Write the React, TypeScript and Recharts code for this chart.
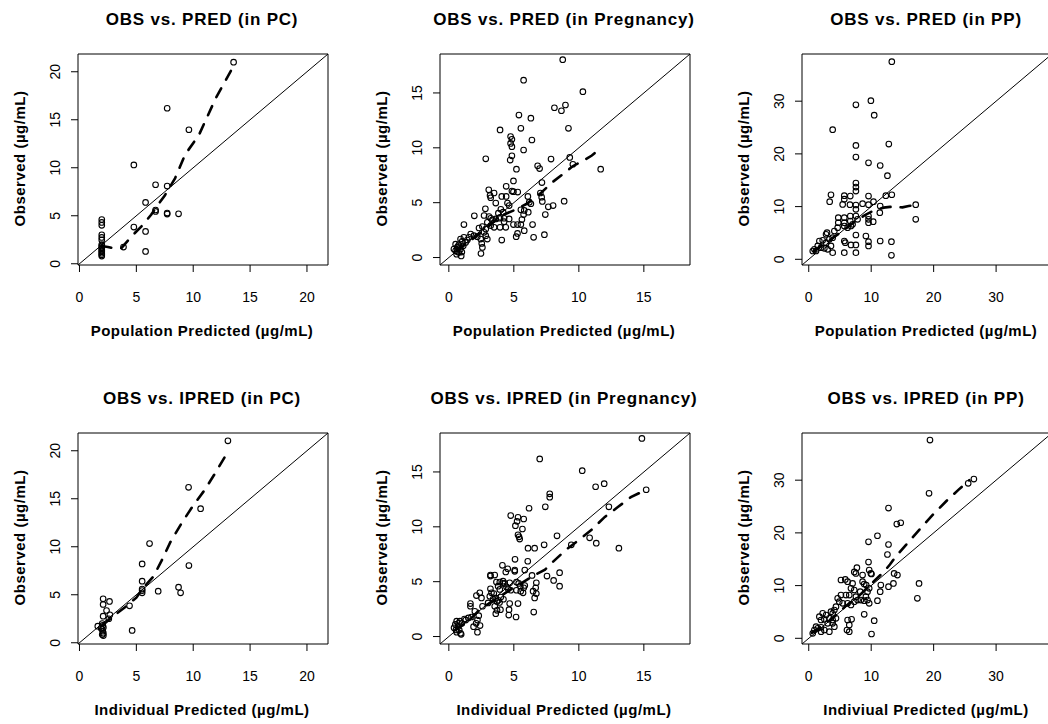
import React from "react";
import {
  ComposedChart,
  Scatter,
  Line,
  XAxis,
  YAxis,
  ReferenceArea,
  ReferenceLine,
} from "recharts";

type Pt = [number, number];

const pcPred: Pt[] = [
  [13.55, 21.0], [7.71, 16.2], [9.62, 13.96], [4.78, 10.3], [6.69, 8.23], [7.71, 8.09],
  [5.81, 6.39], [6.69, 5.6], [6.69, 5.45], [7.71, 5.28], [7.71, 5.17], [8.71, 5.2],
  [4.78, 3.82], [5.81, 3.37], [3.87, 1.74], [5.81, 1.28], [1.96, 4.6], [1.96, 4.3],
  [1.96, 4.0], [1.96, 3.02], [1.96, 2.74], [1.96, 2.48], [1.96, 2.0], [1.96, 1.85],
  [1.96, 1.7], [1.96, 1.55], [1.96, 1.4], [1.96, 1.25], [1.96, 1.1], [1.96, 0.95], [1.96, 0.8],
];
const pcPredFit: Pt[] = [
  [1.93, 1.85], [2.5, 1.75], [3.0, 1.6], [3.7, 1.65], [4.7, 3.0], [5.45, 3.9], [6.3, 5.1],
  [7.0, 6.3], [7.5, 7.1], [8.4, 8.9], [9.3, 11.4], [10.5, 13.4], [12.0, 17.3], [13.5, 20.5],
];

const pregPred: Pt[] = [
  [8.76, 18.03], [5.75, 16.16], [10.31, 15.12], [8.12, 13.65], [8.97, 13.9], [8.66, 13.38],
  [5.39, 12.98], [6.31, 12.7], [3.94, 11.63], [5.54, 11.78], [9.2, 11.78], [4.75, 11.02],
  [4.85, 10.77], [4.75, 10.4], [4.85, 10.1], [6.39, 10.71], [5.75, 9.8], [4.85, 9.27],
  [4.72, 8.88], [2.84, 9.0], [7.86, 8.97], [9.3, 9.12], [5.2, 8.05], [6.83, 8.36],
  [6.98, 8.11], [11.68, 8.05], [9.54, 8.5], [4.97, 6.98], [7.16, 6.83], [4.41, 6.49],
  [3.07, 6.18], [4.85, 6.06], [4.97, 6.0], [5.3, 5.97], [3.48, 5.88], [3.17, 5.66],
  [3.22, 5.45], [4.07, 5.57], [4.41, 5.57], [6.08, 5.57], [7.04, 5.88], [7.14, 5.5],
  [7.19, 5.11], [8.87, 5.14], [8.02, 4.74], [7.65, 4.62], [6.19, 5.05], [6.31, 4.9],
  [4.51, 4.96], [4.64, 4.74], [3.61, 4.96], [2.81, 4.44], [4.0, 4.4], [4.18, 4.13],
  [5.54, 4.35], [6.11, 4.13], [5.8, 4.29], [5.75, 3.92], [7.42, 3.92], [1.96, 3.8],
  [3.81, 4.04], [3.94, 3.67], [2.71, 3.83], [3.09, 3.73], [3.22, 3.58], [3.35, 3.43],
  [3.61, 3.52], [3.87, 3.58], [4.25, 3.58], [4.64, 3.52], [5.62, 3.46], [2.96, 3.21],
  [3.22, 2.91], [3.48, 2.75], [1.16, 3.0], [4.97, 3.0], [5.28, 3.0], [5.54, 3.0],
  [6.44, 3.0], [3.94, 2.75], [4.38, 2.75], [4.25, 3.27], [5.8, 2.45], [5.28, 2.2],
  [5.18, 1.9], [6.52, 1.84], [7.35, 2.08], [4.07, 1.59], [2.58, 2.82], [2.32, 2.69],
  [2.84, 2.6], [2.71, 2.3], [1.68, 2.14], [1.93, 1.99], [2.19, 1.9], [1.55, 1.84],
  [2.45, 1.68], [2.84, 1.99], [2.96, 1.68], [2.53, 1.29], [2.58, 0.92], [2.47, 0.37],
  [0.9, 1.68], [1.03, 1.47], [0.77, 1.16], [0.52, 1.22], [0.64, 0.92], [0.9, 0.77],
  [0.52, 0.61], [0.77, 0.46], [0.95, 0.15], [1.29, 1.38], [1.11, 1.07], [0.39, 0.77],
  [0.64, 0.55], [1.16, 1.84], [1.42, 1.59], [0.6, 0.3], [0.7, 1.0], [1.0, 0.5],
];
const pregPredFit: Pt[] = [
  [0.6, 0.6], [1.5, 1.4], [2.5, 2.3], [3.3, 3.1], [4.0, 3.8], [5.0, 4.3], [6.0, 4.9],
  [7.0, 5.8], [8.0, 6.9], [9.0, 7.8], [9.5, 8.3], [10.3, 8.8], [11.0, 9.3], [11.7, 10.0],
];

const ppPred: Pt[] = [
  [13.3, 37.5], [9.95, 30.1], [7.55, 29.3], [10.48, 27.35], [3.83, 24.6], [12.82, 21.86],
  [7.55, 21.6], [7.55, 19.4], [9.57, 18.3], [11.44, 17.8], [12.6, 15.86], [7.55, 14.47],
  [7.55, 13.7], [7.55, 12.95], [3.56, 12.25], [5.69, 12.07], [5.69, 11.4], [6.65, 12.0],
  [9.57, 12.0], [12.34, 12.07], [13.3, 12.25], [3.35, 10.93], [5.43, 10.42], [6.6, 10.36],
  [7.55, 10.3], [8.62, 10.55], [9.57, 10.36], [10.37, 10.93], [11.44, 10.1], [7.55, 9.48],
  [17.13, 10.36], [17.13, 7.58], [4.73, 7.9], [5.69, 7.9], [6.65, 8.2], [7.55, 8.2],
  [7.82, 7.58], [4.73, 6.95], [5.69, 6.95], [6.65, 7.26], [9.57, 6.95], [10.32, 7.14],
  [9.57, 8.2], [9.57, 7.58], [11.38, 8.84], [5.69, 6.32], [6.22, 6.0], [6.76, 6.32],
  [7.02, 6.63], [4.63, 6.0], [4.1, 5.37], [2.93, 5.05], [2.77, 4.74], [3.83, 4.1],
  [3.3, 3.79], [1.7, 3.47], [2.23, 3.6], [2.77, 3.16], [1.44, 2.53], [0.9, 1.9],
  [0.64, 1.58], [1.17, 1.58], [1.97, 2.21], [2.5, 2.08], [3.03, 1.9], [3.56, 2.53],
  [3.83, 1.26], [5.69, 1.26], [7.55, 1.26], [5.69, 3.47], [5.85, 3.16], [7.55, 4.61],
  [7.55, 2.72], [6.76, 2.72], [9.15, 4.42], [9.57, 3.35], [9.57, 2.53], [11.44, 3.47],
  [13.24, 3.35], [13.24, 0.76],
];
const ppPredFit: Pt[] = [
  [0.8, 1.5], [2, 2.6], [3, 3.3], [4, 4.2], [5, 5.0], [6, 5.9], [7, 6.8], [8, 7.6], [9, 8.4],
  [10, 9.0], [11, 9.5], [12, 9.8], [13, 9.95], [14, 9.9], [15, 9.85], [16, 10.1], [17.3, 10.35],
];

const pcIpred: Pt[] = [
  [13.05, 21.04], [9.59, 16.19], [10.65, 13.97], [6.16, 10.33], [5.51, 8.21], [9.62, 8.04],
  [5.51, 6.41], [5.51, 5.6], [5.51, 5.44], [5.51, 5.2], [6.92, 5.37], [8.71, 5.79],
  [8.89, 5.2], [4.4, 3.85], [4.63, 1.28], [1.61, 1.73], [2.08, 4.58], [2.64, 4.3],
  [2.08, 3.99], [2.38, 3.36], [2.67, 2.91], [2.08, 2.77], [2.58, 2.5], [2.0, 2.0],
  [2.05, 1.8], [2.1, 1.6], [2.0, 1.4], [2.05, 1.2], [2.1, 1.0], [2.0, 0.85], [2.1, 0.75], [1.9, 1.5],
];
const pcIpredFit: Pt[] = [
  [2.0, 1.8], [3.0, 2.8], [4.0, 3.7], [5.0, 4.7], [5.6, 5.7], [6.5, 6.9], [7.2, 8.5],
  [8.0, 10.5], [9.0, 12.5], [10.0, 14.3], [11.0, 15.9], [12.0, 17.8], [13.1, 20.0],
];

const pregIpred: Pt[] = [
  [14.85, 18.06], [6.99, 16.19], [10.26, 15.12], [11.29, 13.65], [11.95, 13.93], [15.18, 13.38],
  [7.76, 13.01], [7.76, 12.7], [6.17, 11.69], [7.42, 11.82], [12.31, 11.82], [4.76, 11.02],
  [5.32, 10.87], [5.25, 10.5], [5.12, 10.1], [5.76, 10.71], [5.66, 9.8], [5.32, 9.27],
  [5.45, 8.88], [5.4, 9.09], [8.32, 9.18], [7.33, 8.36], [6.6, 8.05], [6.09, 8.05],
  [10.83, 9.0], [11.34, 8.51], [9.42, 8.36], [13.08, 8.05], [5.09, 7.04], [6.07, 6.86],
  [4.12, 6.49], [4.38, 5.88], [4.53, 6.18], [5.07, 6.06], [5.07, 5.94], [5.84, 6.06],
  [3.2, 5.6], [3.53, 5.6], [3.2, 5.51], [3.92, 4.96], [4.17, 4.84], [3.66, 4.96],
  [6.4, 5.57], [7.55, 5.51], [8.52, 5.82], [8.06, 5.11], [6.73, 4.9], [6.68, 4.44],
  [8.52, 4.59], [6.73, 3.92], [6.6, 3.52], [5.37, 4.84], [5.5, 4.59], [5.2, 4.22],
  [5.76, 4.44], [5.71, 3.98], [4.68, 4.9], [3.2, 4.35], [2.12, 3.73], [2.38, 3.98],
  [2.51, 3.52], [1.66, 3.0], [3.15, 3.67], [3.02, 3.06], [3.6, 3.5], [3.8, 3.3],
  [4.0, 3.6], [4.2, 3.4], [3.7, 3.2], [3.4, 3.4], [3.9, 3.1], [4.68, 3.0], [4.63, 2.45],
  [5.32, 3.0], [3.97, 2.45], [3.61, 2.08], [4.61, 1.96], [5.17, 1.78], [6.53, 2.23],
  [3.53, 2.76], [3.71, 2.39], [2.59, 2.76], [1.66, 2.76], [2.0, 2.3], [1.74, 1.78],
  [2.3, 1.9], [2.2, 1.5], [2.1, 1.2], [2.4, 1.0], [2.2, 0.4], [1.9, 0.9], [1.5, 1.7],
  [1.3, 1.5], [1.2, 1.6], [0.6, 1.4], [0.5, 1.1], [0.4, 0.8], [0.7, 0.9], [0.8, 0.6],
  [0.55, 0.6], [0.9, 0.3], [0.75, 1.2], [1.0, 1.2], [0.85, 1.4], [0.95, 0.2], [0.6, 0.4],
  [5.2, 4.96], [5.53, 4.13], [5.84, 4.65], [4.56, 4.35], [4.76, 4.22], [3.28, 3.98],
  [3.46, 3.92], [4.17, 5.05], [4.3, 4.84], [3.79, 4.59], [3.92, 4.29], [4.43, 4.53],
  [6.48, 4.13],
];
const pregIpredFit: Pt[] = [
  [0.5, 0.6], [1.5, 1.4], [2.5, 2.6], [3.5, 3.3], [4.5, 4.1], [5.5, 4.8], [6.5, 5.55],
  [7.4, 6.1], [8.0, 6.8], [9.0, 7.9], [10.0, 8.8], [11.0, 9.75], [12.0, 10.9], [13.0, 11.8],
  [14.0, 12.7], [15.2, 13.4],
];

const ppIpred: Pt[] = [
  [19.41, 37.6], [26.44, 30.2], [25.53, 29.4], [19.26, 27.5], [12.77, 24.7], [14.1, 21.67],
  [14.73, 21.92], [11.0, 19.46], [9.57, 18.3], [12.77, 17.8], [12.6, 15.9], [9.57, 14.47],
  [7.71, 13.4], [9.68, 12.95], [9.95, 12.3], [7.29, 12.6], [7.55, 12.3], [8.62, 12.0],
  [10.05, 12.2], [13.67, 12.3], [14.2, 12.0], [5.16, 11.06], [5.85, 11.18], [6.22, 10.74],
  [7.02, 10.42], [8.62, 10.74], [8.88, 10.3], [9.2, 10.1], [11.54, 10.1], [13.56, 10.42],
  [17.66, 10.42], [17.39, 7.58], [12.77, 9.8], [11.44, 8.84], [8.24, 8.84], [9.41, 8.84],
  [9.68, 9.48], [6.76, 9.48], [7.29, 9.16], [5.16, 8.21], [5.96, 8.21], [6.49, 8.21],
  [4.63, 7.58], [4.89, 6.95], [5.43, 6.63], [7.55, 7.9], [7.82, 7.26], [7.29, 6.95],
  [8.35, 7.26], [8.88, 7.14], [9.15, 7.9], [9.41, 7.26], [9.68, 6.63], [11.0, 7.14],
  [6.22, 6.63], [6.76, 6.32], [4.36, 6.0], [4.1, 5.37], [3.83, 4.74], [3.56, 5.05],
  [2.77, 4.42], [2.23, 4.74], [1.7, 4.1], [1.97, 3.47], [2.5, 3.6], [3.3, 3.79],
  [3.83, 3.47], [4.36, 3.79], [3.83, 2.84], [3.03, 2.84], [1.17, 2.21], [0.9, 1.58],
  [1.44, 1.9], [1.97, 2.08], [2.5, 1.58], [3.3, 1.26], [4.1, 2.21], [1.97, 1.26],
  [0.64, 0.95], [6.22, 3.47], [6.86, 3.6], [6.49, 2.53], [6.12, 1.58], [6.49, 1.26],
  [8.88, 4.55], [10.48, 3.35], [10.05, 0.82],
];
const ppIpredFit: Pt[] = [
  [0.5, 1.0], [2, 2.2], [4, 4.0], [6, 6.2], [8, 8.0], [10, 10.3], [12, 12.6], [13, 14.0],
  [14, 15.6], [16, 18.3], [18, 21.0], [20, 23.6], [22, 26.0], [24, 28.2], [25.7, 30.0],
];

const pcTicks = [0, 5, 10, 15, 20];
const pregTicks = [0, 5, 10, 15];
const ppTicks = [0, 10, 20, 30];

const pcDomain: [number, number] = [-0.13, 21.85];
const pregDomain: [number, number] = [-0.68, 18.55];
const ppDomain: [number, number] = [-1.08, 38.95];

const FONT = "'Liberation Sans', Arial, Helvetica, sans-serif";
const BOX_W = 250;
const BOX_H = 211;
const ML = 70;
const MT = 10;
const MR = 10;
const MB = 60;

interface PanelDef {
  title: string;
  xLabel: string;
  points: Pt[];
  fit: Pt[];
  domain: [number, number];
  ticks: number[];
  left: number;
  top: number;
}

const panels: PanelDef[] = [
  { title: "OBS vs. PRED (in PC)", xLabel: "Population Predicted (µg/mL)", points: pcPred, fit: pcPredFit, domain: pcDomain, ticks: pcTicks, left: 77, top: 53 },
  { title: "OBS vs. PRED (in Pregnancy)", xLabel: "Population Predicted (µg/mL)", points: pregPred, fit: pregPredFit, domain: pregDomain, ticks: pregTicks, left: 439, top: 53 },
  { title: "OBS vs. PRED (in PP)", xLabel: "Population Predicted (µg/mL)", points: ppPred, fit: ppPredFit, domain: ppDomain, ticks: ppTicks, left: 801, top: 53 },
  { title: "OBS vs. IPRED (in PC)", xLabel: "Individual Predicted (µg/mL)", points: pcIpred, fit: pcIpredFit, domain: pcDomain, ticks: pcTicks, left: 77, top: 432 },
  { title: "OBS vs. IPRED (in Pregnancy)", xLabel: "Individual Predicted (µg/mL)", points: pregIpred, fit: pregIpredFit, domain: pregDomain, ticks: pregTicks, left: 439, top: 432 },
  { title: "OBS vs. IPRED (in PP)", xLabel: "Indiviual Predicted (µg/mL)", points: ppIpred, fit: ppIpredFit, domain: ppDomain, ticks: ppTicks, left: 801, top: 432 },
];

const XTick = (props: any) => (
  <text x={props.x} y={props.y + 30} textAnchor="middle" fontSize={14} fontFamily={FONT} fill="#000">
    {props.payload.value}
  </text>
);

const YTick = (props: any) => (
  <text
    transform={`translate(${props.x - 11},${props.y}) rotate(-90)`}
    textAnchor="middle"
    fontSize={14}
    fontFamily={FONT}
    fill="#000"
  >
    {props.payload.value}
  </text>
);

const OpenCircle = (props: any) => (
  <circle cx={props.cx} cy={props.cy} r={2.8} fill="none" stroke="#000" strokeWidth={1.1} />
);

function Panel({ p }: { p: PanelDef }) {
  const pts = p.points.map(([x, y]) => ({ x, y }));
  const fit = p.fit.map(([x, y]) => ({ x, y }));
  const [lo, hi] = p.domain;
  return (
    <div style={{ position: "absolute", left: p.left - ML + 0.5, top: p.top - MT + 0.5 }}>
      <ComposedChart
        width={BOX_W + ML + MR}
        height={BOX_H + MT + MB}
        margin={{ top: MT, right: MR, left: 0, bottom: 0 }}
      >
        <XAxis
          type="number"
          dataKey="x"
          domain={[lo, hi]}
          ticks={p.ticks}
          interval={0}
          allowDataOverflow
          height={MB}
          axisLine={false}
          tickSize={7}
          tickMargin={0}
          tickLine={{ stroke: "#000" }}
          tick={XTick}
        />
        <YAxis
          type="number"
          dataKey="y"
          domain={[lo, hi]}
          ticks={p.ticks}
          interval={0}
          allowDataOverflow
          width={ML}
          axisLine={false}
          tickSize={7}
          tickMargin={0}
          tickLine={{ stroke: "#000" }}
          tick={YTick}
        />
        <ReferenceArea x1={lo} x2={hi} y1={lo} y2={hi} fill="none" fillOpacity={0} stroke="#000" strokeWidth={1} />
        <ReferenceLine segment={[{ x: lo, y: lo }, { x: hi, y: hi }]} stroke="#000" strokeWidth={1} />
        <Scatter data={pts} shape={OpenCircle} isAnimationActive={false} />
        <Line
          data={fit}
          dataKey="y"
          type="linear"
          stroke="#000"
          strokeWidth={2.6}
          strokeDasharray="10 10"
          strokeLinecap="round"
          dot={false}
          activeDot={false}
          isAnimationActive={false}
        />
      </ComposedChart>
    </div>
  );
}

export default function App() {
  return (
    <div
      style={{
        position: "absolute",
        left: 0,
        top: 0,
        width: 1048,
        height: 724,
        overflow: "hidden",
        background: "#fff",
      }}
    >
      {panels.map((p) => (
        <Panel key={p.title} p={p} />
      ))}
      <svg width={1048} height={724} style={{ position: "absolute", left: 0, top: 0, pointerEvents: "none" }}>
        {panels.map((p) => {
          const cx = p.left + BOX_W / 2;
          const cy = p.top + BOX_H / 2;
          return (
            <g key={p.title} fontFamily={FONT} fontWeight="bold" fill="#000">
              <text x={cx} y={p.top - 28} textAnchor="middle" fontSize={17} letterSpacing={0.8}>
                {p.title}
              </text>
              <text x={cx} y={p.top + BOX_H + 72} textAnchor="middle" fontSize={15} letterSpacing={0.5}>
                {p.xLabel}
              </text>
              <text
                transform={`translate(${p.left - 52},${cy}) rotate(-90)`}
                textAnchor="middle"
                fontSize={15}
                letterSpacing={0.5}
              >
                Observed (µg/mL)
              </text>
            </g>
          );
        })}
      </svg>
    </div>
  );
}
